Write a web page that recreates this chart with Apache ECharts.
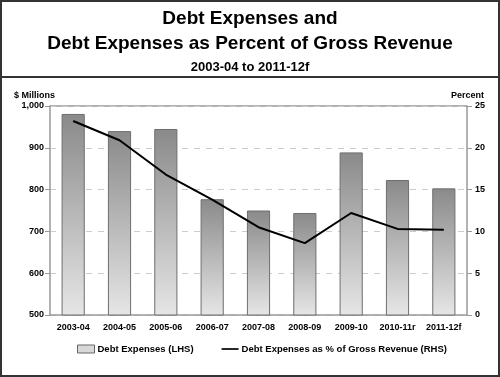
<!DOCTYPE html>
<html>
<head>
<meta charset="utf-8">
<script src="https://cdn.jsdelivr.net/npm/echarts@6/dist/echarts.min.js"></script>
<style>
  html, body { margin: 0; padding: 0; background: #fff; }
  #main { width: 500px; height: 377px; }
</style>
</head>
<body>
<div id="main"></div>
<script>
// chart data
var years = ['2003-04', '2004-05', '2005-06', '2006-07', '2007-08', '2008-09', '2009-10', '2010-11r', '2011-12f'];
var debtExpenses = [981, 940, 945, 777, 750, 744, 889, 823, 803];
var pctOfRevenue = [23.2, 20.9, 16.8, 13.8, 10.5, 8.6, 12.2, 10.3, 10.2];
var leftTicks = [500, 1000, 100];   // min, max, step
var rightTicks = [0, 25, 5];

var chart = echarts.init(document.getElementById('main'));
var font = 'Liberation Sans, Arial, sans-serif';

var option = {
  backgroundColor: '#ffffff',
  animation: false,
  title: [
    {
      text: 'Debt Expenses and\nDebt Expenses as Percent of Gross Revenue',
      left: 'center',
      top: 1,
      textStyle: { fontFamily: font, fontSize: 19, fontWeight: 'bold', color: '#000', lineHeight: 25 }
    },
    {
      text: '2003-04 to 2011-12f',
      left: 'center',
      top: 56,
      textStyle: { fontFamily: font, fontSize: 13, fontWeight: 'bold', color: '#000' }
    }
  ],
  graphic: [
    // outer frame
    { type: 'rect', shape: { x: 1, y: 1, width: 498, height: 375 }, style: { fill: 'none', stroke: '#333', lineWidth: 2 } },
    // separator under title
    { type: 'line', shape: { x1: 0, y1: 77, x2: 500, y2: 77 }, style: { stroke: '#333', lineWidth: 2 } },
    { type: 'text', left: 14, top: 91, style: { text: '$ Millions', font: 'bold 9px ' + font, fill: '#000' } },
    { type: 'text', right: 16, top: 91, style: { text: 'Percent', font: 'bold 9px ' + font, fill: '#000' } },
    // top border of plot area
    { type: 'line', shape: { x1: 50, y1: 106, x2: 467, y2: 106 }, style: { stroke: '#999', lineWidth: 1.5 } }
  ],
  grid: { left: 50, right: 33, top: 106, bottom: 62 },
  legend: {
    bottom: 18,
    left: 72,
    itemGap: 28,
    itemWidth: 17,
    itemHeight: 8,
    textStyle: { fontFamily: font, fontSize: 9.5, fontWeight: 'bold', color: '#000', padding: [0, 0, 0, -2] },
    data: [
      { name: 'Debt Expenses (LHS)', icon: 'rect', itemStyle: { color: '#d8d8d8', borderColor: '#666', borderWidth: 1 } },
      { name: 'Debt Expenses as % of Gross Revenue (RHS)', icon: 'path://M0,0h20v2h-20z', itemStyle: { color: '#000' } }
    ]
  },
  xAxis: {
    type: 'category',
    data: years,
    axisLine: { lineStyle: { color: '#999', width: 1.5 } },
    axisTick: { show: false },
    axisLabel: { interval: 0, fontFamily: font, fontSize: 9, fontWeight: 'bold', color: '#000', margin: 8 }
  },
  yAxis: [
    {
      type: 'value',
      min: leftTicks[0], max: leftTicks[1], interval: leftTicks[2],
      axisLine: { show: true, lineStyle: { color: '#999', width: 1.5 } },
      axisTick: { show: true, length: 5, lineStyle: { color: '#999' } },
      axisLabel: {
        fontFamily: font, fontSize: 9, fontWeight: 'bold', color: '#000', margin: 6,
        formatter: function (v) { return v.toLocaleString('en-US'); }
      },
      splitLine: { show: true, lineStyle: { color: '#ccc', type: [6, 6] } }
    },
    {
      type: 'value',
      min: rightTicks[0], max: rightTicks[1], interval: rightTicks[2],
      axisLine: { show: true, lineStyle: { color: '#999', width: 1.5 } },
      axisTick: { show: true, length: 5, lineStyle: { color: '#999' } },
      axisLabel: { fontFamily: font, fontSize: 9, fontWeight: 'bold', color: '#000', margin: 8 },
      splitLine: { show: false }
    }
  ],
  series: [
    {
      name: 'Debt Expenses (LHS)',
      type: 'bar',
      yAxisIndex: 0,
      barWidth: '50%',
      data: debtExpenses,
      itemStyle: {
        color: new echarts.graphic.LinearGradient(0, 0, 0, 1, [
          { offset: 0, color: '#8a8a8a' },
          { offset: 1, color: '#e6e6e6' }
        ]),
        borderColor: '#6e6e6e',
        borderWidth: 1
      }
    },
    {
      name: 'Debt Expenses as % of Gross Revenue (RHS)',
      type: 'line',
      yAxisIndex: 1,
      data: pctOfRevenue,
      symbol: 'none',
      lineStyle: { color: '#000', width: 2 },
      itemStyle: { color: '#000' }
    }
  ]
};

chart.setOption(option);
</script>
</body>
</html>
